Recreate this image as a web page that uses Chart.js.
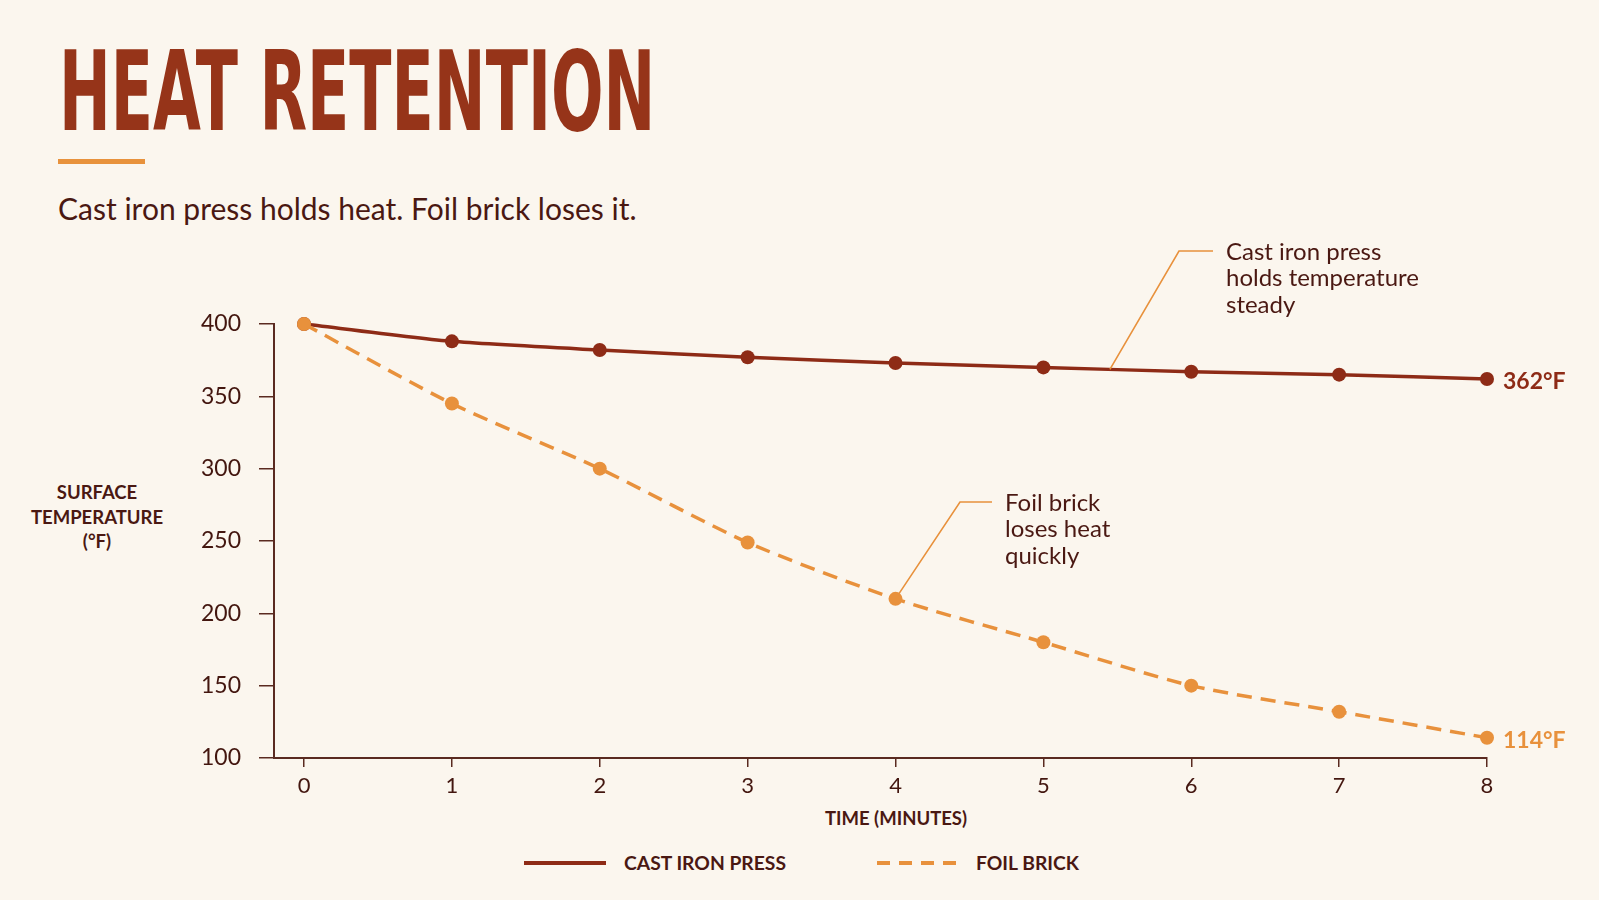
<!DOCTYPE html>
<html>
<head>
<meta charset="utf-8">
<script src="https://cdn.jsdelivr.net/npm/chart.js@4/dist/chart.umd.min.js"></script>
<style>
  html, body { margin: 0; padding: 0; }
  body { width: 1599px; height: 900px; background: #fbf6ee; position: relative; overflow: hidden; font-family: Lato, "Open Sans", sans-serif; color: #43160f; }
  #title { position: absolute; left: 59px; top: 37px; font-family: "Liberation Sans Narrow", "DejaVu Sans Condensed", sans-serif; font-weight: 700; font-size: 110px; line-height: 1; color: #963419; white-space: nowrap; transform-origin: 0 0; }
  #rule { position: absolute; left: 58px; top: 159px; width: 87px; height: 5px; background: #e8923c; }
  #subtitle { position: absolute; left: 58px; top: 190px; font-size: 30px; color: #4a1812; white-space: nowrap; }
  #ytitle { position: absolute; left: 7px; top: 480px; width: 180px; text-align: center; font-size: 18.5px; font-weight: 700; line-height: 24.5px; color: #4a1812; }
  #xtitle { position: absolute; left: 796px; width: 200px; top: 807px; text-align: center; font-size: 18.5px; font-weight: 700; color: #4a1812; }
  .leg { position: absolute; top: 851px; font-size: 19.3px; font-weight: 700; color: #4a1812; white-space: nowrap; }
  .swatch { position: absolute; top: 861px; width: 82px; height: 4px; }
  #chart { position: absolute; left: 0; top: 0; }
</style>
</head>
<body>
<div id="title">HEAT RETENTION</div>
<div id="rule"></div>
<div id="subtitle">Cast iron press holds heat. Foil brick loses it.</div>
<div id="ytitle">SURFACE<br>TEMPERATURE<br>(°F)</div>
<div id="xtitle">TIME (MINUTES)</div>
<div class="swatch" style="left:524px;background:#8e2b16;"></div>
<div class="leg" style="left:624px;">CAST IRON PRESS</div>
<div class="swatch" style="left:877px;background:repeating-linear-gradient(90deg,#e8913c 0 13px,transparent 13px 22px);"></div>
<div class="leg" style="left:976px;">FOIL BRICK</div>
<canvas id="chart" width="1599" height="900"></canvas>
<script>
const minutes = [0, 1, 2, 3, 4, 5, 6, 7, 8]
const castIron = [400, 388, 382, 377, 373, 370, 367, 365, 362]
const foilBrick = [400, 345, 300, 249, 210, 180, 150, 132, 114]
const yTicks = [100, 150, 200, 250, 300, 350, 400]

const castColor = '#8e2b16'
const foilColor = '#e8913c'
const axisColor = '#5a2a20'
const inkColor = '#43160f'

// squeeze the title to the reference width
const t = document.getElementById('title')
t.style.transform = 'scaleX(' + (596 / t.offsetWidth) + ')'

function lerp(arr, x){
    const i = Math.floor(x)
    return arr[i] + (arr[i + 1] - arr[i]) * (x - i)
}

const notes = {
    id: 'notes',
    afterDatasetsDraw(chart){
        const ctx = chart.ctx
        const xs = chart.scales.x
        const ys = chart.scales.y
        ctx.save()
        // leader lines
        ctx.strokeStyle = foilColor
        ctx.lineWidth = 1.6
        ctx.beginPath()
        ctx.moveTo(1213, 251)
        ctx.lineTo(1179, 251)
        ctx.lineTo(xs.getPixelForValue(5.45), ys.getPixelForValue(lerp(castIron, 5.45)))
        ctx.stroke()
        ctx.beginPath()
        ctx.moveTo(992, 502)
        ctx.lineTo(960, 502)
        ctx.lineTo(xs.getPixelForValue(4), ys.getPixelForValue(foilBrick[4]))
        ctx.stroke()

        ctx.font = '24px Lato'
        ctx.fillStyle = '#4a1812'
        ctx.textBaseline = 'middle'
        ctx.textAlign = 'left'
        const castNote = ['Cast iron press', 'holds temperature', 'steady']
        castNote.forEach((s, i) => ctx.fillText(s, 1226, 252 + i * 26.5))
        const foilNote = ['Foil brick', 'loses heat', 'quickly']
        foilNote.forEach((s, i) => ctx.fillText(s, 1005, 503 + i * 26.5))

        // end labels
        const last = minutes.length - 1
        ctx.font = 'bold 23px Lato'
        ctx.fillStyle = castColor
        ctx.fillText(castIron[last] + '°F', xs.getPixelForValue(minutes[last]) + 16, ys.getPixelForValue(castIron[last]) + 3)
        ctx.fillStyle = foilColor
        ctx.fillText(foilBrick[last] + '°F', xs.getPixelForValue(minutes[last]) + 16, ys.getPixelForValue(foilBrick[last]) + 3)
        ctx.restore()
    }
}

const chartConfig = {
    type: 'line',
    data: {
        datasets: [{
            label: 'Foil brick',
            data: minutes.map((m, i) => ({x: m, y: foilBrick[i]})),
            borderColor: foilColor,
            backgroundColor: foilColor,
            borderWidth: 3.5,
            borderDash: [15, 9],
            pointRadius: 7,
            pointBorderWidth: 0,
            tension: 0.25,
            clip: false,
        }, {
            label: 'Cast iron press',
            data: minutes.map((m, i) => ({x: m, y: castIron[i]})),
            borderColor: castColor,
            backgroundColor: castColor,
            borderWidth: 3.5,
            pointRadius: 7,
            pointBorderWidth: 0,
            tension: 0.2,
            clip: false,
        }]
    },
    options: {
        responsive: false,
        animation: false,
        layout: { padding: { top: 324, right: 112, left: 0, bottom: 0 } },
        plugins: { legend: { display: false }, tooltip: { enabled: false } },
        scales: {
            x: {
                type: 'linear',
                min: -0.203,
                max: 8,
                afterBuildTicks: (scale) => { scale.ticks = minutes.map(v => ({value: v})) },
                afterFit: (scale) => { scale.height = 142 },
                grid: { drawOnChartArea: false, drawTicks: true, tickLength: 9, color: axisColor, lineWidth: 1.5 },
                border: { display: true, color: axisColor, width: 2 },
                ticks: { color: inkColor, font: { family: 'Lato', size: 22 }, padding: 6 }
            },
            y: {
                min: 100,
                max: 400,
                afterBuildTicks: (scale) => { scale.ticks = yTicks.map(v => ({value: v})) },
                afterFit: (scale) => { scale.width = 274 },
                grid: { drawOnChartArea: false, drawTicks: true, tickLength: 15, color: axisColor, lineWidth: 1.5 },
                border: { display: true, color: axisColor, width: 2 },
                ticks: { color: inkColor, font: { family: 'Lato', size: 23 }, padding: 18 }
            }
        }
    },
    plugins: [notes]
}
new Chart(document.getElementById('chart').getContext('2d'), chartConfig)
</script>
</body>
</html>
